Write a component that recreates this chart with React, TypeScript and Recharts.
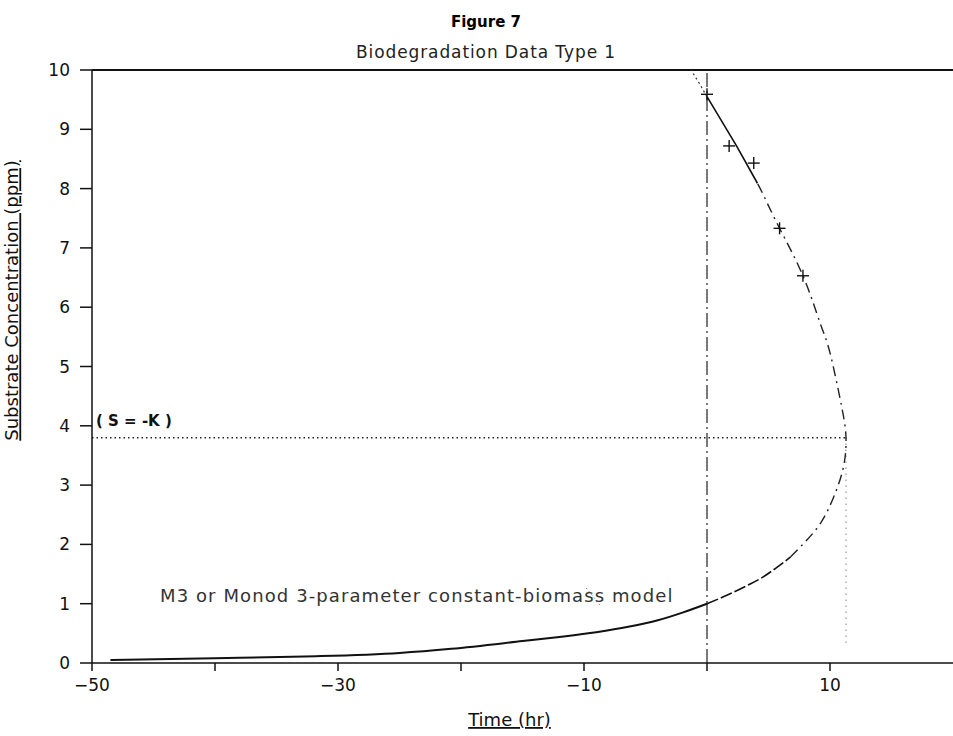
import {
  ComposedChart,
  Line,
  Scatter,
  XAxis,
  YAxis,
  ReferenceLine,
  Label,
} from 'recharts';

// model curve, split by the stroke style used in the plot
const lowerSolidT = [-48.5, -40, -32.7, -25, -20.8, -15, -12, -9, -6.4, -4, -2, 0];
const lowerSolidS = [0.05, 0.08, 0.11, 0.17, 0.24, 0.37, 0.44, 0.52, 0.61, 0.72, 0.85, 1.0];
const lowerDashT = [0, 1.7, 3.3, 4.4, 5.6, 6.8];
const lowerDashS = [1.0, 1.15, 1.31, 1.43, 1.6, 1.79];
const bendT = [6.8, 8.1, 9.3, 10.3, 11.1, 11.3, 10.95, 10.0, 9.2, 7.8, 5.9, 4.66, 4.1];
const bendS = [1.79, 2.07, 2.38, 2.8, 3.31, 3.8, 4.32, 5.23, 5.73, 6.53, 7.33, 7.86, 8.09];
const upperSolidT = [4.1, 2.4, 0];
const upperSolidS = [8.09, 8.72, 9.55];
const topDotT = [0, -0.7, -1.3];
const topDotS = [9.55, 9.8, 10];

// measured data (+)
const obsT = [0, 1.8, 3.8, 5.9, 7.8];
const obsS = [9.59, 8.72, 8.43, 7.33, 6.53];

const xTicks = [-50, -40, -30, -20, -10, 0, 10];
const xLabelled = [-50, -30, -10, 10];
const yTicks = [0, 1, 2, 3, 4, 5, 6, 7, 8, 9, 10];

const sK = 3.8;
const sKTime = 11.3;

const pts = (t: number[], s: number[]) => t.map((v, i) => ({ t: v, s: s[i] }));

const font = '"DejaVu Sans", Verdana, sans-serif';

function Cross(props: any) {
  const { cx, cy } = props;
  if (cx == null || cy == null) return null;
  return (
    <g stroke="#111" strokeWidth={1.4}>
      <line x1={cx - 6} y1={cy} x2={cx + 6} y2={cy} />
      <line x1={cx} y1={cy - 6} x2={cx} y2={cy + 6} />
    </g>
  );
}

export default function App() {
  return (
    <div style={{ position: 'absolute', left: 0, top: 0, width: 953, height: 736, background: '#fff', fontFamily: font }}>
      <div style={{ position: 'absolute', left: 486, top: 13, transform: 'translateX(-50%)', fontWeight: 700, fontSize: 15, whiteSpace: 'nowrap' }}>
        Figure 7
      </div>
      <div style={{ position: 'absolute', left: 486, top: 42, transform: 'translateX(-50%)', fontSize: 17, letterSpacing: 0.9, whiteSpace: 'nowrap', color: '#222' }}>
        Biodegradation Data Type 1
      </div>
      <div style={{ position: 'absolute', left: 96, top: 412, fontSize: 15, fontWeight: 700, whiteSpace: 'pre', color: '#111' }}>
        ( S = -K )
      </div>
      <div style={{ position: 'absolute', left: 160, top: 585, fontSize: 18, letterSpacing: 1.1, whiteSpace: 'nowrap', color: '#333' }}>
        M3 or Monod 3-parameter constant-biomass model
      </div>
      <ComposedChart width={953} height={736} margin={{ top: 70, right: 0, bottom: 0, left: 0 }}>
        <XAxis
          type="number"
          dataKey="t"
          domain={[-50, 20]}
          ticks={xTicks}
          tickFormatter={(v: number) => (xLabelled.includes(v) ? String(v).replace('-', '\u2212') : '')}
          allowDataOverflow
          height={73}
          stroke="#111"
          strokeWidth={1.5}
          tickSize={8}
          tickMargin={8}
          tick={{ fill: '#111', fontSize: 17, fontFamily: font }}
        >
          <Label
            value="Time (hr)"
            position="insideBottom"
            offset={10}
            dx={-13}
            style={{ fill: '#111', fontSize: 18, fontFamily: font, textDecoration: 'underline' }}
          />
        </XAxis>
        <YAxis
          type="number"
          dataKey="s"
          domain={[0, 10]}
          ticks={yTicks}
          allowDataOverflow
          width={92}
          stroke="#111"
          strokeWidth={1.5}
          tickSize={12}
          tickMargin={10}
          tick={{ fill: '#111', fontSize: 17, fontFamily: font }}
        >
          <Label
            value="Substrate Concentration (ppm)"
            angle={-90}
            position="insideLeft"
            offset={12}
            dy={-66}
            style={{ fill: '#111', fontSize: 18, fontFamily: font, textDecoration: 'underline', textAnchor: 'middle' }}
          />
        </YAxis>
        <ReferenceLine y={10} stroke="#111" strokeWidth={2} />
        <ReferenceLine x={0} stroke="#222" strokeWidth={1.2} strokeDasharray="14 4 2 4" />
        <ReferenceLine
          segment={[{ x: -50, y: sK }, { x: sKTime, y: sK }]}
          stroke="#222"
          strokeWidth={1.5}
          strokeDasharray="1.5 3"
        />
        <ReferenceLine
          segment={[{ x: sKTime, y: sK }, { x: sKTime, y: 0.3 }]}
          stroke="#444"
          strokeWidth={1}
          strokeDasharray="1 5"
        />
        <ReferenceLine
          segment={[{ x: -9.8, y: 1.26 }, { x: -8.6, y: 0.95 }]}
          stroke="#555"
          strokeWidth={1}
          strokeDasharray="1 3"
        />
        <Line data={pts(lowerSolidT, lowerSolidS)} dataKey="s" type="monotone" stroke="#111" strokeWidth={2} dot={false} isAnimationActive={false} />
        <Line data={pts(lowerDashT, lowerDashS)} dataKey="s" type="monotone" stroke="#111" strokeWidth={1.6} strokeDasharray="12 3" dot={false} isAnimationActive={false} />
        <Line data={pts(bendT, bendS)} dataKey="s" type="natural" stroke="#222" strokeWidth={1.4} strokeDasharray="10 5 2 5" dot={false} isAnimationActive={false} />
        <Line data={pts(upperSolidT, upperSolidS)} dataKey="s" type="linear" stroke="#111" strokeWidth={1.6} dot={false} isAnimationActive={false} />
        <Line data={pts(topDotT, topDotS)} dataKey="s" type="linear" stroke="#333" strokeWidth={1.2} strokeDasharray="2 3" dot={false} isAnimationActive={false} />
        <Scatter data={pts(obsT, obsS)} dataKey="s" shape={<Cross />} isAnimationActive={false} />
      </ComposedChart>
    </div>
  );
}
